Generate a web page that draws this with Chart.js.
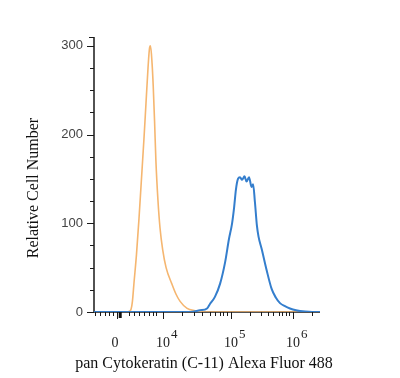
<!DOCTYPE html>
<html lang="en">
<head>
  <meta charset="UTF-8">
  <title>pan Cytokeratin histogram</title>
  <script src="https://cdn.jsdelivr.net/npm/chart.js"></script>
  <style>
    body { margin: 0; background: #fff; }
    #chart { display: block; }
  </style>
</head>
<body>
  <canvas id="chart" width="400" height="378"></canvas>
<script>
  // x values are display channels (0-1000) across the biexponential axis
  const orangeX = [0, 145, 155, 164, 170, 177, 188, 199, 210, 221, 230, 239, 246, 250, 257, 262, 268, 274, 283, 292, 304, 319, 344, 363, 381, 412, 447, 491, 1000];
  const orangeY = [0, 0, 0.5, 3, 12, 33, 65, 105, 150, 195, 235, 275, 298, 300, 280, 255, 215, 170, 126, 95, 70, 50, 32, 20, 12, 4, 1.5, 0, 0];

  const blueX = [0, 425, 469, 500, 513, 535, 558, 580, 597, 611, 620, 628, 637, 646, 655, 666, 675, 686, 697, 704, 712, 721, 728, 742, 764, 786, 805, 823, 845, 867, 894, 934, 965, 1000];
  const blueY = [0, 0, 2, 4, 9, 17, 32, 56, 82, 100, 118, 138, 150, 152, 149, 153, 147, 152, 141, 144, 124, 97, 85, 71, 47, 26, 16, 10, 6.5, 4, 2, 0.5, 0, 0];

  const xMajorTicks = [102, 305, 606, 881];
  const xTickBases = ['0', '10', '10', '10'];
  const xTickExps = ['', '4', '5', '6'];
  const xMinorTicks = [3, 28, 47, 65, 83, 155, 178, 200, 222, 242, 260, 274, 389, 443, 478, 513, 535, 558, 573, 589, 690, 741, 771, 793, 818, 833, 850, 863, 966];
  const xZeroMark = 116;

  const yMajorTicks = [0, 100, 200, 300];
  const yMinorTicks = [25, 50, 75, 125, 150, 175, 225, 250, 275];

  function toPoints(xs, ys) {
    return xs.map((x, i) => ({ x: x, y: ys[i] }));
  }

  // axes, ticks and labels
  const axesPlugin = {
    id: 'flowAxes',
    beforeDatasetsDraw(chart) {
      const ctx = chart.ctx;
      const a = chart.chartArea;
      ctx.save();
      ctx.strokeStyle = '#1a1a1a';
      ctx.lineWidth = 1.5;
      ctx.beginPath();
      ctx.moveTo(a.left, a.top);
      ctx.lineTo(a.left, a.bottom);
      ctx.lineTo(a.right, a.bottom);
      ctx.stroke();
      ctx.restore();
    },
    afterDraw(chart) {
      const ctx = chart.ctx;
      const a = chart.chartArea;
      const xs = chart.scales.x;
      const ys = chart.scales.y;
      ctx.save();
      ctx.strokeStyle = '#1a1a1a';
      ctx.lineWidth = 1;

      // y ticks
      yMajorTicks.forEach(v => {
        const y = Math.round(ys.getPixelForValue(v)) + 0.5;
        ctx.beginPath(); ctx.moveTo(a.left - 7, y); ctx.lineTo(a.left, y); ctx.stroke();
      });
      yMinorTicks.forEach(v => {
        const y = Math.round(ys.getPixelForValue(v)) + 0.5;
        ctx.beginPath(); ctx.moveTo(a.left - 4, y); ctx.lineTo(a.left, y); ctx.stroke();
      });
      ctx.beginPath(); ctx.moveTo(a.left - 5, a.top + 0.5); ctx.lineTo(a.left, a.top + 0.5); ctx.stroke();

      // x ticks
      xMajorTicks.forEach(v => {
        const x = Math.round(xs.getPixelForValue(v)) + 0.5;
        ctx.beginPath(); ctx.moveTo(x, a.bottom); ctx.lineTo(x, a.bottom + 7); ctx.stroke();
      });
      xMinorTicks.forEach(v => {
        const x = Math.round(xs.getPixelForValue(v)) + 0.5;
        ctx.beginPath(); ctx.moveTo(x, a.bottom); ctx.lineTo(x, a.bottom + 4); ctx.stroke();
      });
      const zx = xs.getPixelForValue(xZeroMark);
      ctx.fillStyle = '#111';
      ctx.fillRect(zx - 1.5, a.bottom, 3, 6);

      // y labels
      ctx.fillStyle = '#444';
      ctx.font = '13px "Liberation Sans", Arial, sans-serif';
      ctx.textAlign = 'right';
      ctx.textBaseline = 'middle';
      yMajorTicks.forEach(v => {
        ctx.fillText(String(v), a.left - 11, ys.getPixelForValue(v));
      });

      // x labels with exponents
      ctx.fillStyle = '#222';
      ctx.textBaseline = 'alphabetic';
      xMajorTicks.forEach((v, i) => {
        const x = xs.getPixelForValue(v);
        ctx.font = '14px "Liberation Serif", "Times New Roman", serif';
        ctx.textAlign = 'center';
        const base = xTickBases[i];
        const w = ctx.measureText(base).width;
        const bx = i === 0 ? x - 2 : x;
        ctx.fillText(base, bx, a.bottom + 35);
        if (xTickExps[i]) {
          ctx.font = '13px "Liberation Serif", "Times New Roman", serif';
          ctx.textAlign = 'left';
          ctx.fillText(xTickExps[i], bx + w / 2 + 1, a.bottom + 26);
        }
      });

      // titles
      ctx.fillStyle = '#111';
      ctx.font = '16px "Liberation Serif", "Times New Roman", serif';
      ctx.textAlign = 'center';
      ctx.fillText('pan Cytokeratin (C-11) Alexa Fluor 488', 204, 368);
      ctx.translate(38, 188);
      ctx.rotate(-Math.PI / 2);
      ctx.fillText('Relative Cell Number', 0, 0);
      ctx.restore();
    }
  };

  const ctx = document.getElementById('chart').getContext('2d');
  const myChart = new Chart(ctx, {
    type: 'line',
    data: {
      datasets: [{
        label: 'Isotype',
        data: toPoints(orangeX, orangeY),
        borderColor: 'rgb(245,182,112)',
        borderWidth: 1.6,
        pointRadius: 0,
        cubicInterpolationMode: 'monotone',
        fill: false,
        order: 2
      }, {
        label: 'pan Cytokeratin',
        data: toPoints(blueX, blueY),
        borderColor: 'rgb(52,126,205)',
        borderWidth: 2,
        pointRadius: 0,
        cubicInterpolationMode: 'monotone',
        fill: false,
        order: 1
      }]
    },
    options: {
      responsive: false,
      animation: false,
      layout: {
        padding: { left: 94, right: 80, top: 37, bottom: 66 }
      },
      scales: {
        x: { type: 'linear', min: 0, max: 1000, display: false },
        y: { type: 'linear', min: 0, max: 310, display: false }
      },
      plugins: {
        legend: { display: false },
        tooltip: { enabled: false }
      }
    },
    plugins: [axesPlugin]
  });
</script>
</body>
</html>
